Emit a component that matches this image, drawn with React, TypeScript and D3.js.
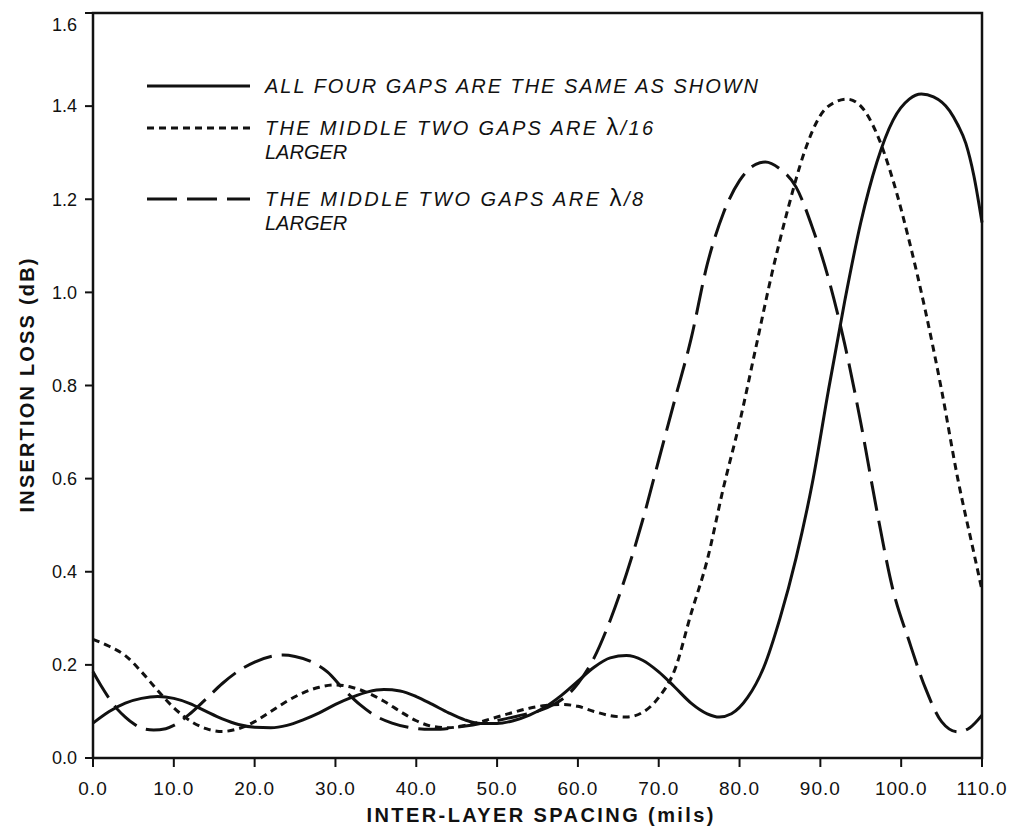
import React from "react";
import * as d3 from "d3";

// ---- data ----
const xTicks = [0, 10, 20, 30, 40, 50, 60, 70, 80, 90, 100, 110];
const yTicks = [0, 0.2, 0.4, 0.6, 0.8, 1.0, 1.2, 1.4, 1.6];

// All four gaps the same (solid)
const sameX = [0, 2, 4, 6, 8, 10, 12, 14, 16, 18, 20, 22, 24, 26, 28, 30, 32, 34, 36, 38, 40, 42, 44, 46, 48, 50, 52, 54, 56, 58, 60, 62, 64, 66, 68, 70, 72, 74, 76, 77.5, 79, 81, 83, 85, 87, 89, 91, 93, 95, 97, 99, 101, 102.5, 104, 106, 107, 108, 109, 110];
const sameY = [0.075, 0.1, 0.118, 0.128, 0.132, 0.128, 0.117, 0.1, 0.084, 0.072, 0.066, 0.065, 0.07, 0.082, 0.097, 0.115, 0.13, 0.142, 0.147, 0.144, 0.132, 0.115, 0.097, 0.082, 0.074, 0.074, 0.08, 0.092, 0.11, 0.135, 0.165, 0.195, 0.215, 0.22, 0.21, 0.185, 0.152, 0.118, 0.095, 0.088, 0.095, 0.13, 0.195, 0.3, 0.43, 0.59, 0.79, 0.98, 1.15, 1.28, 1.37, 1.415, 1.426, 1.42, 1.39, 1.36, 1.32, 1.25, 1.15];

// Middle two gaps lambda/16 larger (short dash)
const l16X = [0, 2, 4, 6, 8, 10, 12, 14, 16, 18, 20, 22, 24, 26, 28, 30, 32, 34, 36, 38, 40, 42, 44, 46, 48, 50, 52, 54, 56, 58, 60, 62, 64, 66, 68, 70, 72, 74, 76, 78, 80, 82, 84, 86, 88, 90, 92, 93.3, 95, 97, 99, 101, 103, 105, 107, 109, 110];
const l16Y = [0.255, 0.24, 0.22, 0.185, 0.145, 0.108, 0.08, 0.063, 0.057, 0.063, 0.078, 0.1, 0.122, 0.14, 0.152, 0.157, 0.152, 0.14, 0.122, 0.1, 0.08, 0.068, 0.065, 0.07, 0.078, 0.088, 0.098, 0.107, 0.113, 0.115, 0.111, 0.1, 0.091, 0.088, 0.098, 0.13, 0.19, 0.31, 0.425, 0.58, 0.72, 0.88, 1.04, 1.18, 1.3, 1.38, 1.41, 1.415, 1.4, 1.34, 1.24, 1.11, 0.96, 0.79, 0.6, 0.44, 0.36];

// Middle two gaps lambda/8 larger (long dash)
const l8X = [0, 1, 2, 3, 4, 5, 6, 7.5, 9, 10, 12, 14, 16, 18, 20, 22, 23.5, 25, 27, 29, 31, 33, 35, 37, 39, 41, 43, 45, 47, 49, 51, 53, 55, 57, 59, 60, 62, 64, 66, 68, 70, 72, 74, 76, 78, 80, 82, 83.2, 85, 87, 89, 91, 93, 95, 97, 99, 101, 103, 105, 107, 108.5, 110];
const l8Y = [0.185, 0.155, 0.128, 0.105, 0.088, 0.074, 0.064, 0.06, 0.063, 0.07, 0.095, 0.127, 0.16, 0.187, 0.206, 0.218, 0.221, 0.218, 0.207, 0.185, 0.148, 0.115, 0.09, 0.075, 0.066, 0.062, 0.062, 0.066, 0.071, 0.077, 0.084, 0.092, 0.1, 0.115, 0.14, 0.16, 0.215, 0.296, 0.395, 0.51, 0.64, 0.77, 0.9, 1.06, 1.17, 1.24, 1.275, 1.28, 1.265, 1.226, 1.14, 1.03, 0.89, 0.72, 0.53, 0.36, 0.25, 0.15, 0.078, 0.056, 0.065, 0.092];

const legendLabels = [
  "ALL FOUR GAPS ARE THE SAME AS SHOWN",
  "THE MIDDLE TWO GAPS ARE ",
  "THE MIDDLE TWO GAPS ARE ",
];
const legendLambda = ["", "\u03BB/16", "\u03BB/8"];

const W = 1014;
const H = 829;
const left = 93;
const right = 982;
const top = 13;
const bottom = 758;

export default function App() {
  const x = d3.scaleLinear().domain([0, 110]).range([left, right]);
  const y = d3.scaleLinear().domain([0, 1.6]).range([bottom, top]);
  const line = d3
    .line<[number, number]>()
    .x((d) => x(d[0]))
    .y((d) => y(d[1]))
    .curve(d3.curveMonotoneX);

  const series = [
    { xs: sameX, ys: sameY, dash: undefined as string | undefined },
    { xs: l16X, ys: l16Y, dash: "7 5" },
    { xs: l8X, ys: l8Y, dash: "30 10" },
  ];

  const font = "'Liberation Sans', Arial, Helvetica, sans-serif";
  const ink = "#111";

  const legendRows = [
    { ly: 86, dash: undefined as string | undefined, len: 493, extra: "" },
    { ly: 128, dash: "7 5", len: 388, extra: "LARGER" },
    { ly: 199, dash: "30 10", len: 378, extra: "LARGER" },
  ];

  return (
    <div style={{ position: "absolute", left: 0, top: 0, width: W, height: H, background: "#fff" }}>
      <svg width={W} height={H} viewBox={`0 0 ${W} ${H}`} style={{ display: "block" }}>
        <rect x={0} y={0} width={W} height={H} fill="#fff" />
        {/* frame */}
        <rect x={left} y={top} width={right - left} height={bottom - top} fill="none" stroke={ink} strokeWidth={2.5} />

        {/* y ticks */}
        {yTicks.map((t, i) => (
          <g key={"yt" + i}>
            <line x1={left - 8} x2={left} y1={y(t)} y2={y(t)} stroke={ink} strokeWidth={2} />
            <text
              x={77}
              y={y(t) + (t === 1.6 ? 12 : 0)}
              dy="0.35em"
              textAnchor="end"
              fontFamily={font}
              fontSize={18}
              fill={ink}
            >
              {t.toFixed(1)}
            </text>
          </g>
        ))}

        {/* x ticks */}
        {xTicks.map((t, i) => (
          <g key={"xt" + i}>
            <line x1={x(t)} x2={x(t)} y1={bottom} y2={bottom + 9} stroke={ink} strokeWidth={2} />
            <text
              x={x(t)}
              y={795}
              textAnchor="middle"
              fontFamily={font}
              fontSize={19}
              letterSpacing={1}
              fill={ink}
            >
              {t.toFixed(1)}
            </text>
          </g>
        ))}

        {/* axis titles */}
        <text
          x={540}
          y={822}
          textAnchor="middle"
          fontFamily={font}
          fontWeight="bold"
          fontSize={20}
          textLength={347}
          lengthAdjust="spacing"
          fill={ink}
        >
          INTER-LAYER SPACING (mils)
        </text>
        <text
          transform={`translate(34, ${(top + bottom) / 2}) rotate(-90)`}
          textAnchor="middle"
          fontFamily={font}
          fontWeight="bold"
          fontSize={20}
          textLength={254}
          lengthAdjust="spacing"
          fill={ink}
        >
          INSERTION LOSS (dB)
        </text>

        {/* curves */}
        {series.map((s, i) => (
          <path
            key={"s" + i}
            d={line(s.xs.map((v, j) => [v, s.ys[j]] as [number, number])) || ""}
            fill="none"
            stroke={ink}
            strokeWidth={3}
            strokeDasharray={s.dash}
          />
        ))}

        {/* legend */}
        {legendRows.map((r, i) => (
          <g key={"lg" + i}>
            <line x1={147} x2={250} y1={r.ly} y2={r.ly} stroke={ink} strokeWidth={3} strokeDasharray={r.dash} />
            <text
              x={265}
              y={r.ly + 7}
              fontFamily={font}
              fontStyle="italic"
              fontSize={20}
              textLength={r.len}
              lengthAdjust="spacing"
              fill={ink}
            >
              {legendLabels[i]}
              {legendLambda[i] ? (
                <tspan fontStyle="normal" fontSize={24}>
                  {legendLambda[i].slice(0, 1)}
                </tspan>
              ) : null}
              {legendLambda[i] ? legendLambda[i].slice(1) : null}
            </text>
            {r.extra ? (
              <text x={265} y={r.ly + 31} fontFamily={font} fontStyle="italic" fontSize={20} fill={ink}>
                {r.extra}
              </text>
            ) : null}
          </g>
        ))}
      </svg>
    </div>
  );
}
